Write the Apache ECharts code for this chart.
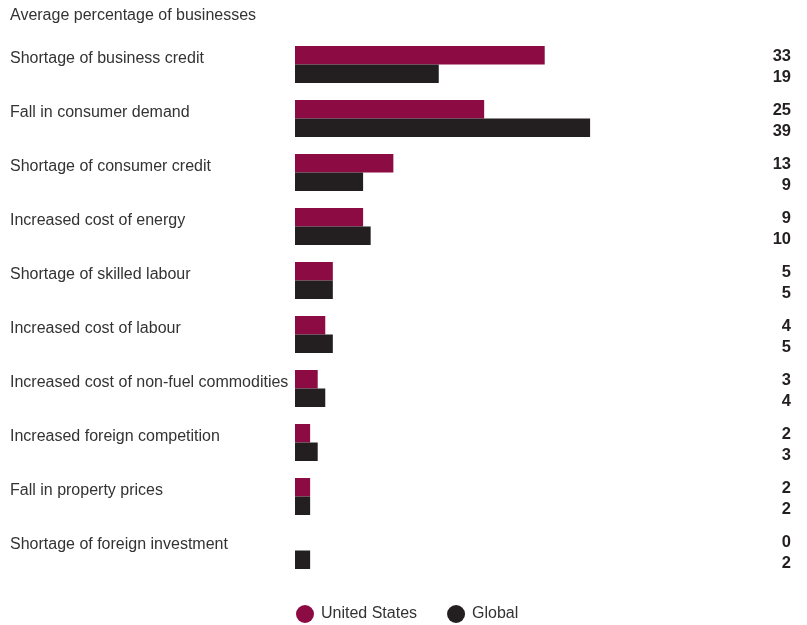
<!DOCTYPE html>
<html>
<head>
<meta charset="utf-8">
<script src="https://cdn.jsdelivr.net/npm/echarts@6/dist/echarts.min.js"></script>
<style>
  html, body { margin: 0; padding: 0; background: #fff; }
  #chart { width: 807px; height: 625px; }
</style>
</head>
<body>
<div id="chart"></div>
<script>
const categories = [
  'Shortage of business credit',
  'Fall in consumer demand',
  'Shortage of consumer credit',
  'Increased cost of energy',
  'Shortage of skilled labour',
  'Increased cost of labour',
  'Increased cost of non-fuel commodities',
  'Increased foreign competition',
  'Fall in property prices',
  'Shortage of foreign investment'
];
const unitedStates = [33, 25, 13, 9, 5, 4, 3, 2, 2, 0];
const globalValues = [19, 39, 9, 10, 5, 5, 4, 3, 2, 2];
const seriesNames = ['United States', 'Global'];
const subtitle = 'Average percentage of businesses';

const FONT = '"Liberation Sans Narrow", "Liberation Sans", sans-serif';
const US_COLOR = '#8c0b43';
const GLOBAL_COLOR = '#231f20';

const chart = echarts.init(document.getElementById('chart'), null, { renderer: 'canvas' });

chart.setOption({
  animation: false,
  textStyle: { fontFamily: FONT },
  title: {
    text: subtitle,
    left: 5,
    top: 3,
    textStyle: { fontFamily: FONT, fontSize: 16, fontWeight: 'normal', color: '#333' }
  },
  legend: {
    bottom: -3,
    left: 291,
    itemGap: 30,
    itemWidth: 18,
    itemHeight: 18,
    icon: 'circle',
    textStyle: { fontFamily: FONT, fontSize: 16, color: '#333', padding: [0, 0, 0, 2] },
    data: seriesNames
  },
  grid: { left: 295, right: 58, top: 37.5, bottom: 47.5, containLabel: false },
  xAxis: {
    type: 'value',
    min: 0,
    max: 60,
    show: false
  },
  yAxis: [
    {
      type: 'category',
      data: categories,
      inverse: true,
      axisLine: { show: false },
      axisTick: { show: false },
      axisLabel: {
        margin: 285,
        align: 'left',
        // a short spacer line below lifts the name above the bar pair centre
        formatter: (v) => '{c|' + v + '}\n{s| }',
        rich: {
          c: { fontFamily: FONT, fontSize: 16, color: '#333', lineHeight: 20, align: 'left' },
          s: { fontSize: 1, lineHeight: 12 }
        }
      }
    },
    {
      type: 'category',
      data: categories,
      inverse: true,
      position: 'right',
      axisLine: { show: false },
      axisTick: { show: false },
      axisLabel: {
        margin: 42,
        align: 'right',
        // spacer line on top nudges both values down beside their bars
        formatter: (v, i) => '{s| }\n{v|' + unitedStates[i] + '}\n{v|' + globalValues[i] + '}',
        rich: {
          v: { fontFamily: FONT, fontSize: 16.5, fontWeight: 'bold', color: '#231f20', lineHeight: 21, align: 'right' },
          s: { fontSize: 1, lineHeight: 5 }
        }
      }
    }
  ],
  series: [
    {
      name: seriesNames[0],
      type: 'bar',
      data: unitedStates,
      barWidth: 18.5,
      barGap: '0%',
      itemStyle: { color: US_COLOR }
    },
    {
      name: seriesNames[1],
      type: 'bar',
      data: globalValues,
      barWidth: 18.5,
      barGap: '0%',
      itemStyle: { color: GLOBAL_COLOR }
    }
  ]
});
</script>
</body>
</html>
